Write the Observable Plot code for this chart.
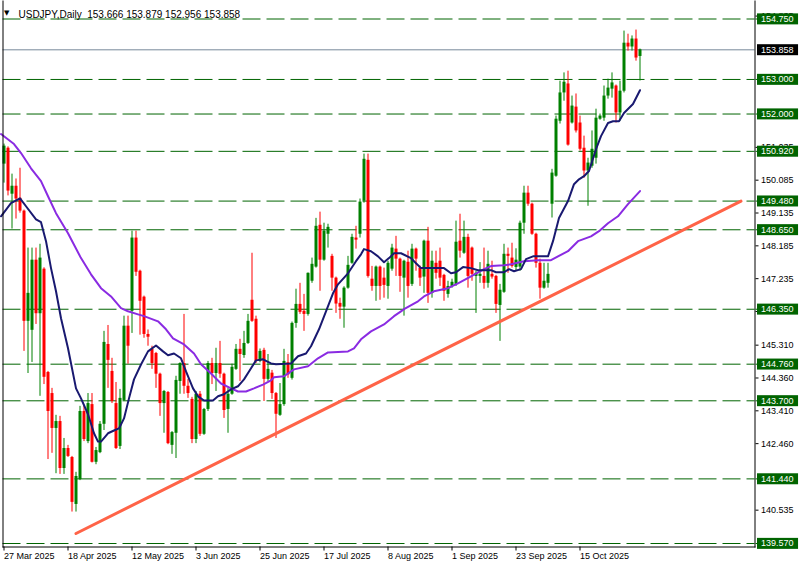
<!DOCTYPE html>
<html><head><meta charset="utf-8">
<script src="https://cdn.jsdelivr.net/npm/d3@7"></script>
<script src="https://cdn.jsdelivr.net/npm/@observablehq/plot@0.6"></script>
<style>html,body{margin:0;padding:0;background:#fff;overflow:hidden;} #chart{width:800px;height:567px;}</style>
</head><body><div id="chart"></div>
<script>
const symbol = "USDJPY", timeframe = "Daily";
const opens = [150.55,151.01,149.68,149.91,149.56,149.19,146.00,145.74,147.77,146.22,
147.51,144.52,143.91,142.90,143.10,141.74,142.32,142.06,140.70,141.42,
143.39,142.52,143.59,141.92,142.20,143.02,145.33,144.55,143.62,142.38,
143.71,145.86,146.29,148.41,147.45,146.70,145.62,145.19,145.07,144.47,
143.62,143.94,142.41,142.76,144.26,144.78,144.12,143.74,142.58,143.89,
142.73,143.45,144.78,144.49,144.78,144.47,143.45,143.89,144.61,145.19,
145.01,145.36,146.61,146.06,144.84,145.16,144.32,144.50,143.91,143.28,
143.59,144.80,144.35,145.94,146.49,146.29,146.20,147.16,147.57,148.78,
147.77,148.52,147.88,147.25,146.52,146.41,146.96,147.68,148.41,148.52,
149.48,150.66,147.22,147.01,147.57,147.25,147.01,147.51,148.09,147.80,
147.25,147.71,147.07,148.09,147.54,147.28,148.32,146.81,147.68,147.74,
147.33,146.78,147.01,147.07,148.32,147.97,148.43,148.12,147.30,147.30,
147.30,147.10,147.36,147.30,146.46,146.84,147.94,147.83,147.56,147.57,
148.84,149.71,149.39,148.52,147.68,146.96,147.10,149.39,150.20,151.79,
152.61,152.87,151.74,152.20,151.74,151.01,150.35,150.49,150.72,151.85,
151.88,152.52,152.72,152.81,152.03,152.66,154.05,153.94,154.17,153.666];
const highs = [151.13,151.05,150.26,150.12,150.43,149.22,148.12,148.12,148.12,148.23,
147.55,144.55,144.06,143.28,143.25,142.61,142.41,142.09,141.63,143.54,
143.54,143.91,143.91,142.35,143.10,145.71,145.88,144.93,144.23,144.03,
146.15,146.15,148.61,148.61,147.48,146.73,145.75,145.28,145.10,144.50,
144.00,143.97,142.81,144.41,144.80,146.20,144.32,143.80,143.97,143.97,
143.48,144.84,144.93,145.22,145.42,144.50,144.06,144.76,145.33,145.48,
145.71,146.20,147.97,146.15,145.20,145.22,145.04,144.58,143.94,144.20,
145.19,145.04,145.98,146.93,147.10,146.78,147.40,147.83,148.98,149.16,
148.84,148.81,147.94,147.28,146.67,147.00,147.88,148.52,148.75,149.54,
150.84,150.84,147.59,147.60,147.60,147.54,147.74,148.23,148.46,147.83,
147.77,148.03,148.23,148.12,147.60,148.35,148.72,148.03,148.03,148.12,
147.36,147.16,147.22,148.90,149.10,148.90,148.52,148.15,147.45,147.70,
148.12,148.03,147.74,147.33,147.07,148.23,148.12,148.26,148.10,148.90,
149.91,149.91,149.42,148.55,147.80,147.68,147.68,150.40,151.94,152.95,
153.19,153.24,152.52,152.58,151.94,151.36,150.72,151.51,152.14,152.00,
152.81,153.01,153.19,152.84,152.95,154.40,154.31,154.26,154.43,153.879];
const lows = [150.00,149.63,148.67,148.96,149.13,145.13,144.49,144.81,145.91,143.83,
144.17,142.00,142.18,141.59,141.57,141.57,142.06,140.48,140.48,141.39,
142.52,142.46,141.90,141.85,142.17,142.84,144.06,143.62,142.29,142.29,
143.68,144.76,145.65,147.30,145.60,145.51,145.28,144.61,144.06,143.25,
142.76,142.43,142.15,142.03,143.89,143.89,143.77,142.46,142.46,142.67,
142.70,143.39,144.17,143.97,144.35,143.19,142.76,143.86,144.58,144.26,
144.93,145.33,145.97,144.78,144.80,143.68,144.26,143.74,142.61,143.25,
143.54,144.35,144.30,145.80,146.20,145.71,146.15,147.10,147.54,146.87,
147.74,148.12,146.87,146.23,146.06,145.80,146.93,147.65,148.09,148.41,
149.42,147.25,146.87,146.58,146.61,146.67,146.64,147.45,147.30,146.84,
146.15,146.67,147.01,147.45,147.01,146.81,146.52,146.67,147.22,147.01,
146.58,146.67,146.96,147.01,147.83,147.94,146.96,147.16,146.23,147.10,
146.93,146.96,147.22,146.23,145.42,146.81,147.39,147.54,147.45,147.45,
148.52,149.33,148.49,147.54,146.64,146.93,146.96,148.99,150.17,151.71,
152.37,151.07,151.71,151.45,150.93,150.14,149.33,150.43,150.55,151.82,
151.79,152.43,152.46,151.74,151.79,152.61,153.82,153.82,153.53,152.956];
const closes = [151.07,149.77,149.91,149.54,149.19,146.00,146.81,147.77,146.22,147.83,
144.38,143.39,142.90,143.10,141.74,142.32,142.09,140.76,141.51,143.39,
142.58,143.62,141.92,142.26,143.02,145.39,144.87,143.68,142.32,143.77,
145.86,145.28,148.41,147.42,146.58,145.62,145.54,144.78,144.47,143.62,
143.97,142.46,142.78,144.29,144.78,144.12,143.91,142.58,143.89,142.73,
143.45,144.78,144.49,144.78,144.47,143.42,143.89,144.67,145.19,145.04,
145.36,146.00,146.00,144.84,145.13,144.32,144.61,143.91,143.31,143.59,
144.84,144.45,145.94,146.49,146.26,146.20,147.39,147.65,148.75,147.77,
148.61,148.72,147.25,146.50,146.41,146.96,147.62,148.43,148.35,149.45,
150.69,147.30,147.01,147.57,147.01,147.04,147.68,148.12,147.80,147.30,
147.74,147.01,148.09,147.80,147.25,148.32,146.81,147.74,147.39,147.25,
146.87,147.01,147.13,148.29,148.03,148.43,147.30,147.36,147.39,147.36,
147.10,147.65,147.28,146.49,146.90,147.94,147.88,147.59,147.77,148.84,
149.71,149.39,148.52,147.68,146.96,147.16,147.36,150.29,151.85,152.61,
152.92,151.10,152.23,151.51,150.98,150.35,150.58,150.98,151.88,151.94,
152.52,152.75,152.90,152.03,152.66,154.05,153.94,154.17,153.62,153.858];

const fastMAIdx = [-0.75,1.75,4,5.5,8,9.25,10.5,11.75,13,14.25,16,18,19.25,21,22.5,23.5,24.25,26,27.5,28.75,30,31.25,32.5,34.25,36,38,39.75,41,42.5,44.25,45.5,47.25,48.5,50,52.25,53.5,55,56.75,58.5,60,61.25,63,64.75,66.75,68,71.75,73.5,75.5,76.75,78.75,80.5,82.25,83.5,86,88,89.25,90,91.75,93.5,95,96.25,97.5,99.25,101.75,103,104.25,107.5,110,111.75,113,114.75,116.75,118.5,121.75,123,125,126.25,127.5,129.25,130.5,132.25,136,137.25,138.75,141,142.5,143.75,145,146.25,148,149.25,151,152.25,153.75,155,157.25,159];
const fastMAVal = [149.04,149.42,149.56,149.33,148.95,148.87,148.32,147.54,146.87,146.09,145.22,144.06,143.77,143.31,142.76,142.52,142.52,142.76,142.84,142.90,143.19,143.77,144.32,144.75,145.13,145.30,145.13,145.02,145.07,144.93,144.55,144.06,143.83,143.71,143.71,143.83,143.89,144.03,144.12,144.32,144.55,144.87,144.90,144.78,144.76,144.78,144.99,145.07,145.28,145.77,146.29,146.81,147.07,147.39,147.74,147.94,148.09,148.03,147.88,147.71,147.83,147.97,147.97,147.83,147.68,147.54,147.54,147.54,147.39,147.42,147.57,147.54,147.48,147.48,147.42,147.42,147.51,147.45,147.51,147.80,147.88,147.88,148.32,148.99,149.48,149.97,150.11,150.20,150.35,150.98,151.36,151.74,151.79,151.79,152.03,152.29,152.69];
const slowMAIdx = [-0.75,2.5,4.25,6.75,9.25,11,13,16,19.25,21.75,24.25,26.75,29.25,31,33.5,35,38.5,40.5,42.25,45,47.5,49.25,51.75,54.25,56.75,58.5,60.5,62.5,64.75,66.75,67.5,70,72.5,76,78.5,81,86,87.5,89.25,91.75,95,97.5,99.25,100,103.5,105,107.5,111,113.5,116.75,120,121.75,125,126.75,130,133.5,136.75,138.5,141,143.5,146.75,148.75,151,153.5,156,159];
const slowMAVal = [151.42,151.13,150.87,150.43,150.06,149.62,149.13,148.55,147.83,147.36,146.96,146.72,146.38,146.29,146.20,146.15,146.00,145.77,145.51,145.33,145.07,144.76,144.49,144.20,144.06,143.97,143.97,144.06,144.17,144.29,144.38,144.41,144.61,144.70,144.93,145.10,145.13,145.22,145.48,145.71,145.91,146.15,146.29,146.35,146.58,146.72,146.87,146.96,147.10,147.30,147.51,147.60,147.62,147.65,147.74,147.77,147.77,147.88,148.03,148.32,148.46,148.61,148.84,149.04,149.39,149.77];
const trendIdx = [18, 184.25];
const trendVal = [139.86, 149.48];
const levels = [154.750, 153.000, 152.000, 150.920, 149.480, 148.650, 146.350, 144.760, 143.700, 141.440, 139.570];
const yTicks = [140.535, 142.460, 143.410, 144.360, 145.310, 146.285, 147.235, 148.185, 149.135, 150.085, 151.035, 154.835];
const dateTickIdx = [0, 16, 32, 48, 64, 80, 96, 112, 128, 144];
const dateTickLabels = ["27 Mar 2025","18 Apr 2025","12 May 2025","3 Jun 2025","25 Jun 2025","17 Jul 2025","8 Aug 2025","1 Sep 2025","23 Sep 2025","15 Oct 2025"];

const candles = opens.map((o, i) => ({i, open: o, high: highs[i], low: lows[i], close: closes[i]}));
const up = candles.filter(d => d.close >= d.open);
const down = candles.filter(d => d.close < d.open);
const last = candles[candles.length - 1];
const fast = fastMAIdx.map((x, k) => ({i: x, v: fastMAVal[k]}));
const slow = slowMAIdx.map((x, k) => ({i: x, v: slowMAVal[k]}));
const trend = trendIdx.map((x, k) => ({i: x, v: trendVal[k]}));
const labelMap = new Map(dateTickIdx.map((d, k) => [d, dateTickLabels[k]]));
const title = `${symbol},${timeframe}\u00a0\u00a0${[last.open, last.high, last.low, last.close].map(v => v.toFixed(3)).join(" ")}`;

const GREEN = "#008000", RED = "#ff0000", LEVEL = "#006400";
const font = "Liberation Sans, Arial, sans-serif";

const chart = Plot.plot({
  width: 800, height: 567,
  marginLeft: 2.5, marginRight: 45.5, marginTop: 0.5, marginBottom: 20.5,
  style: {fontFamily: font, fontSize: "9px", background: "#fff", color: "#000"},
  x: {type: "linear", domain: [0, 188], range: [3.5, 755.5], axis: null},
  y: {domain: [139.57, 154.75], range: [543, 18.5], axis: null},
  marks: [
    Plot.ruleY(levels, {y: d => d, stroke: LEVEL, strokeWidth: 1, strokeDasharray: "18,6"}),
    Plot.ruleY([last.close], {y: d => d, stroke: "#778899", strokeWidth: 1}),
    Plot.ruleX(up, {x: "i", y1: "low", y2: "high", stroke: GREEN, strokeWidth: 1}),
    Plot.ruleX(up, {x: "i", y1: "open", y2: "close", stroke: GREEN, strokeWidth: 3}),
    Plot.ruleX(down, {x: "i", y1: "low", y2: "high", stroke: RED, strokeWidth: 1}),
    Plot.ruleX(down, {x: "i", y1: "open", y2: "close", stroke: RED, strokeWidth: 3}),
    Plot.line(slow, {x: "i", y: "v", stroke: "#8a2be2", strokeWidth: 2}),
    Plot.line(fast, {x: "i", y: "v", stroke: "#191970", strokeWidth: 2}),
    Plot.line(trend, {x: "i", y: "v", stroke: "#ff6347", strokeWidth: 3}),
    Plot.frame({anchor: "left", stroke: "#000"}),
    Plot.frame({anchor: "bottom", stroke: "#000"}),
    Plot.frame({anchor: "right", stroke: "#000"}),
    Plot.axisY({anchor: "right", ticks: yTicks, tickFormat: d => d.toFixed(3), tickSize: 3, tickPadding: 3, fontSize: 9, label: null, fill: "#000"}),
    Plot.axisY({anchor: "right", ticks: levels, tickFormat: () => "", tickSize: 2, label: null, stroke: LEVEL}),
    Plot.axisX({anchor: "bottom", ticks: dateTickIdx, tickFormat: d => labelMap.get(d), tickSize: 4, tickPadding: 2, textAnchor: "start", fontSize: 9, label: null, fill: "#000"}),
    Plot.text(levels, {y: d => d, text: d => d.toFixed(3), frameAnchor: "right", dx: 6, textAnchor: "start", fill: "#fff", fontSize: 9, ariaDescription: "level-labels"}),
    Plot.text([last.close], {y: d => d, text: d => d.toFixed(3), frameAnchor: "right", dx: 6, textAnchor: "start", fill: "#fff", fontSize: 9, ariaDescription: "price-label"}),
    Plot.text(["\u25BC"], {frameAnchor: "top-left", dx: 1, dy: 9.5, textAnchor: "start", fontSize: 7, fill: "#000", fontFamily: "DejaVu Sans"}),
    Plot.text([title], {frameAnchor: "top-left", dx: 15.5, dy: 9.5, textAnchor: "start", fontSize: 10, fill: "#000"})
  ]
});
document.getElementById("chart").appendChild(chart);

function boxify(desc, fill) {
  d3.select(chart).selectAll(`g[aria-description="${desc}"] text`).each(function () {
    const b = this.getBBox();
    const cy = b.y + b.height / 2;
    const r = d3.select(this.parentNode).insert("rect", () => this)
      .attr("x", b.x - 4).attr("y", cy - 5.5)
      .attr("width", b.width + 8.5).attr("height", 11)
      .attr("fill", fill);
    const t = this.getAttribute("transform");
    if (t) r.attr("transform", t);
  });
}
boxify("level-labels", LEVEL);
boxify("price-label", "#000");
</script>
</body></html>
